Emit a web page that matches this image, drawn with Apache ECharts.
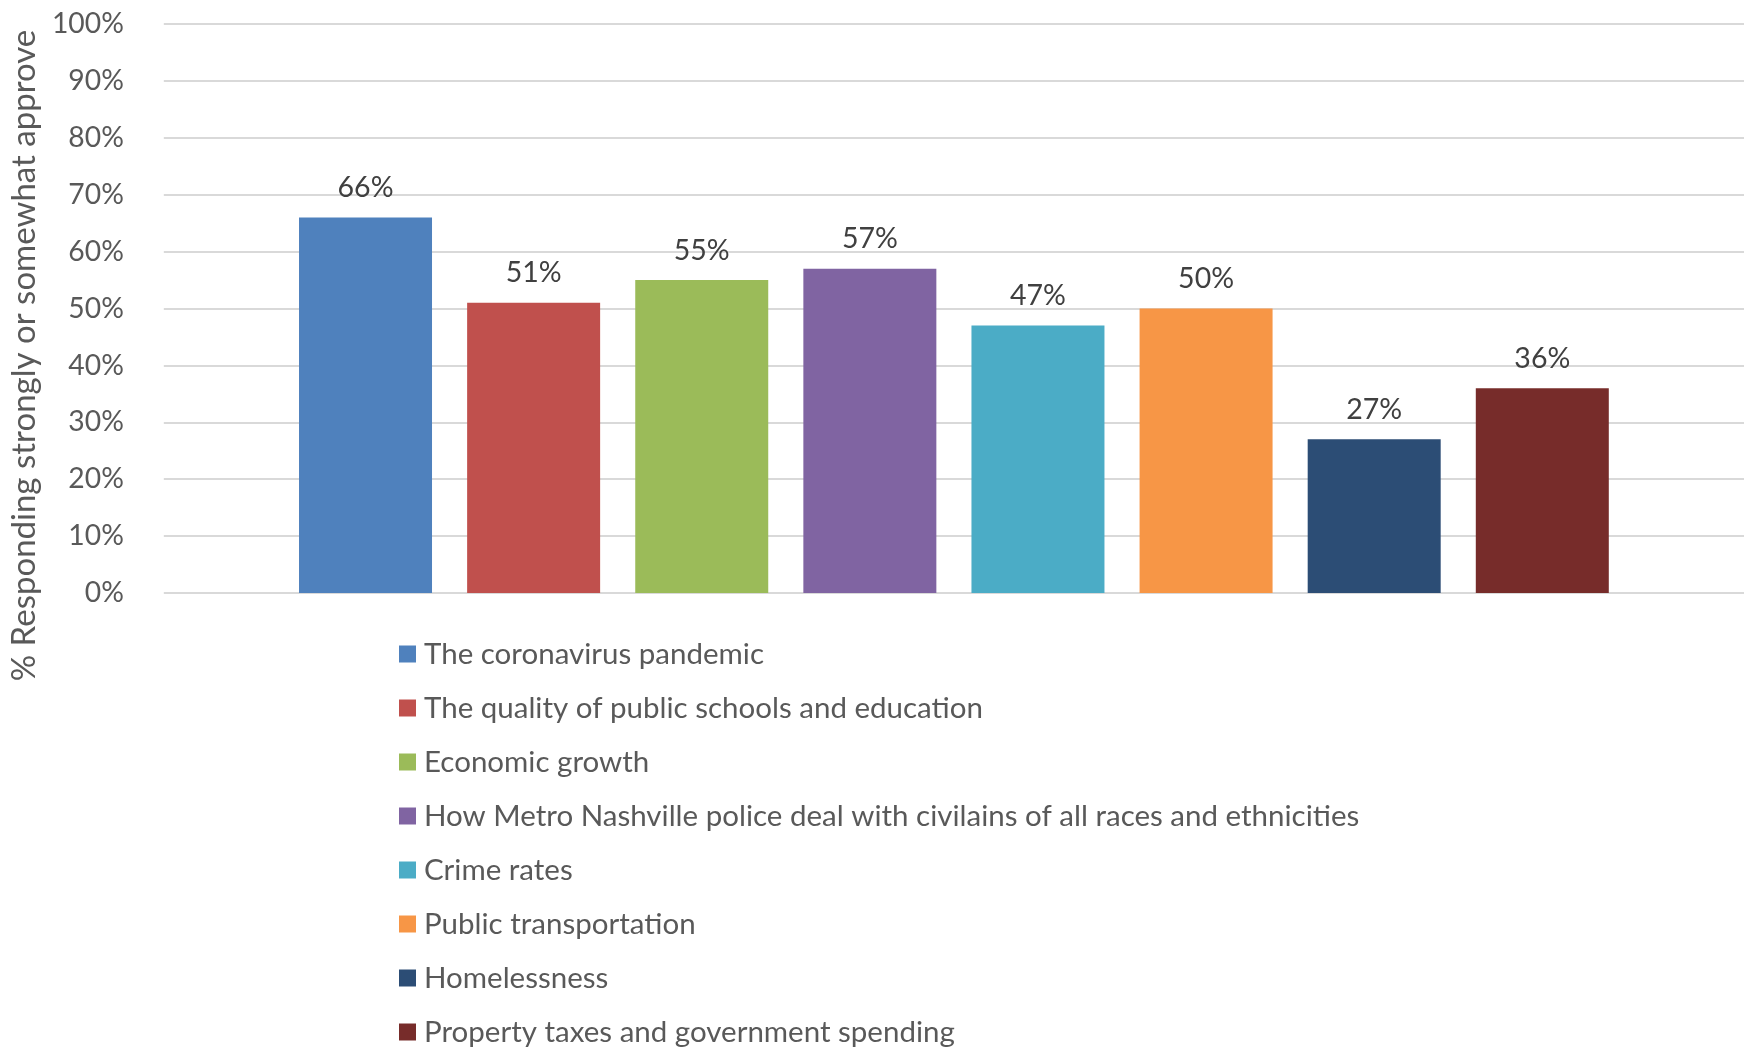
<!DOCTYPE html>
<html>
<head>
<meta charset="utf-8">
<script src="https://cdn.jsdelivr.net/npm/echarts@6/dist/echarts.min.js"></script>
<style>
  html, body { margin: 0; padding: 0; background: #fff; }
  #chart { width: 1744px; height: 1047px; }
</style>
</head>
<body>
<div id="chart"></div>
<script>
// survey items, one bar each
const items = [
  'The coronavirus pandemic',
  'The quality of public schools and education',
  'Economic growth',
  'How Metro Nashville police deal with civilains of all races and ethnicities',
  'Crime rates',
  'Public transportation',
  'Homelessness',
  'Property taxes and government spending'
];
const approve = [66, 51, 55, 57, 47, 50, 27, 36];
const colors = ['#4F81BD', '#C0504D', '#9BBB59', '#8064A2', '#4BACC6', '#F79646', '#2C4D75', '#772C2A'];
const yName = '% Responding strongly or somewhat approve';

const FONT = 'Lato';

const chart = echarts.init(document.getElementById('chart'));

const series = items.map((name, i) => ({
  name: name,
  type: 'bar',
  data: [approve[i]],
  barWidth: 133,
  barGap: '26.4%',
  itemStyle: { color: colors[i] },
  label: {
    show: true,
    position: 'top',
    distance: 15,
    formatter: '{c}%',
    color: '#404040',
    fontFamily: FONT,
    fontSize: 28.5
  }
}));

chart.setOption({
  animation: false,
  grid: { left: 153, right: -8, top: 24, bottom: 454, containLabel: false },
  legend: {
    orient: 'vertical',
    left: 394,
    top: 634,
    height: 420,
    itemWidth: 17,
    itemHeight: 17,
    itemGap: 24,
    icon: 'rect',
    textStyle: { color: '#595959', fontFamily: FONT, fontSize: 29.5, lineHeight: 30, padding: [0, 0, 0, 3] },
    data: items
  },
  xAxis: {
    type: 'category',
    data: [''],
    axisLine: { show: false },
    axisTick: { show: false },
    axisLabel: { show: false }
  },
  yAxis: {
    type: 'value',
    min: 0,
    max: 100,
    interval: 10,
    name: yName,
    nameLocation: 'middle',
    nameGap: 120,
    nameTextStyle: { color: '#595959', fontFamily: FONT, fontSize: 33, padding: [0, 94, 0, 0] },
    axisLine: { show: false },
    axisTick: { show: false },
    axisLabel: { formatter: '{value}%', color: '#595959', fontFamily: FONT, fontSize: 28.3, margin: 40 },
    splitLine: { lineStyle: { color: '#D9D9D9', width: 2 } }
  },
  series: series
});
</script>
</body>
</html>
